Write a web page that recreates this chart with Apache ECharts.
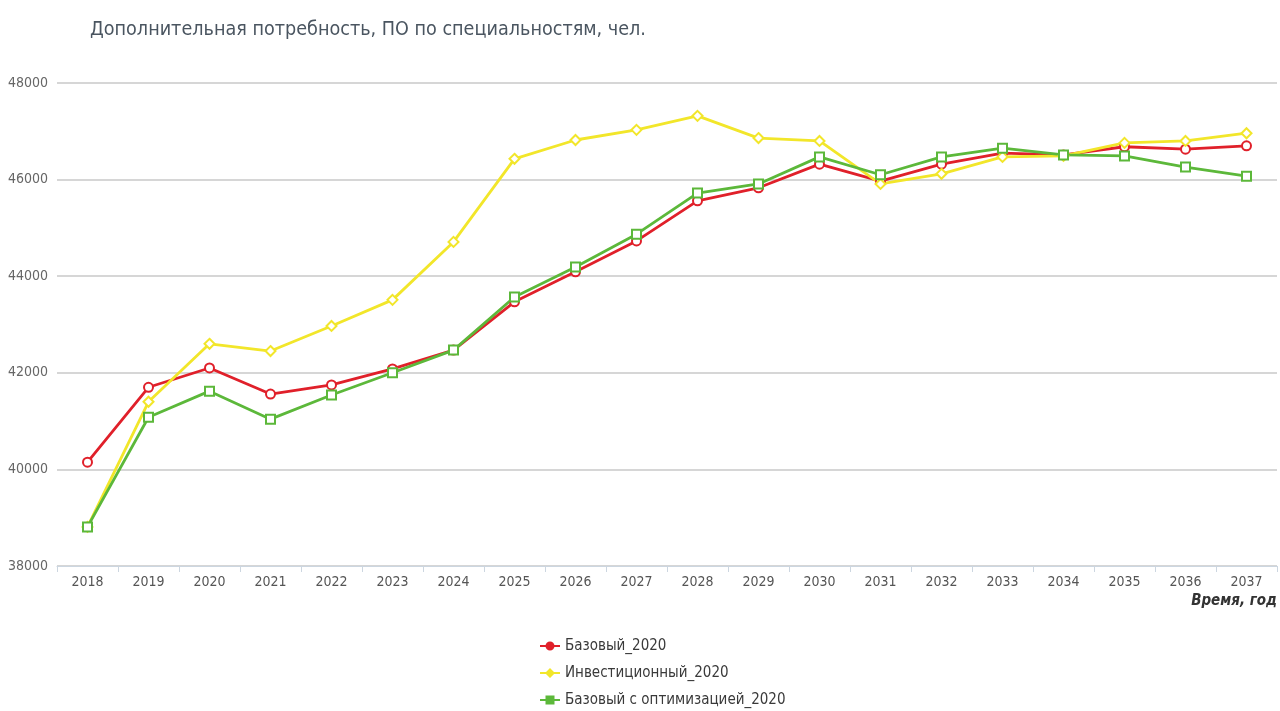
<!DOCTYPE html>
<html>
<head>
<meta charset="utf-8">
<script src="https://cdn.jsdelivr.net/npm/echarts@6/dist/echarts.min.js"></script>
<style>
  html, body { margin: 0; padding: 0; background: #fff; }
  #chart { width: 1280px; height: 711px; }
</style>
</head>
<body>
<div id="chart"></div>
<script>
const years = ['2018', '2019', '2020', '2021', '2022', '2023', '2024', '2025', '2026', '2027',
    '2028', '2029', '2030', '2031', '2032', '2033', '2034', '2035', '2036', '2037'];

const bazovy = [40150, 41700, 42100, 41560, 41750, 42080, 42470, 43470, 44090, 44730,
    45560, 45830, 46320, 45970, 46320, 46550, 46510, 46680, 46630, 46700];

const investicionny = [38810, 41400, 42600, 42450, 42970, 43510, 44710, 46430, 46820, 47030,
    47320, 46860, 46800, 45910, 46120, 46470, 46490, 46760, 46800, 46960];

const bazovyOpt = [38810, 41080, 41620, 41040, 41540, 42000, 42470, 43570, 44190, 44870,
    45720, 45910, 46470, 46100, 46470, 46650, 46510, 46490, 46260, 46070];

const fontFam = '"DejaVu Sans Condensed", "DejaVu Sans", sans-serif';

// иконки легенды: линия + залитый маркер
const iconCircle = 'path://M0,4h20v2h-20z M14.5,5a4.5,4.5 0 1,1 -9,0a4.5,4.5 0 1,1 9,0z';
const iconDiamond = 'path://M0,4h20v2h-20z M10,0l5,5l-5,5l-5,-5z';
const iconRect = 'path://M0,4h20v2h-20z M5.5,0.5h9v9h-9z';

const chart = echarts.init(document.getElementById('chart'));

chart.setOption({
    animation: false,
    title: {
        text: 'Дополнительная потребность, ПО по специальностям, чел.',
        left: 85,
        top: 15,
        textStyle: { fontFamily: fontFam, fontSize: 19.6, fontWeight: 'normal', color: '#4a5560' }
    },
    legend: {
        orient: 'vertical',
        left: 540,
        top: 637,
        height: 74,
        padding: 0,
        itemGap: 9,
        itemWidth: 20,
        itemHeight: 10,
        textStyle: { fontFamily: fontFam, fontSize: 15, lineHeight: 18, color: '#3a3a3a' },
        data: [
            { name: 'Базовый_2020', icon: iconCircle },
            { name: 'Инвестиционный_2020', icon: iconDiamond },
            { name: 'Базовый с оптимизацией_2020', icon: iconRect }
        ]
    },
    grid: { left: 57, right: 2, top: 83, bottom: 145 },
    xAxis: {
        type: 'category',
        data: years,
        boundaryGap: true,
        name: 'Время, год',
        nameLocation: 'end',
        nameGap: 0,
        nameTextStyle: {
            fontFamily: fontFam, fontSize: 15, fontWeight: 'bold', fontStyle: 'italic', color: '#333',
            align: 'right', verticalAlign: 'top', padding: [28, 0, 0, 0]
        },
        axisLine: { lineStyle: { color: '#ccd6e0', width: 1 } },
        axisTick: { show: true, alignWithLabel: false, length: 6, lineStyle: { color: '#ccd6e0' } },
        axisLabel: { fontFamily: fontFam, fontSize: 14, color: '#555', margin: 9 }
    },
    yAxis: {
        type: 'value',
        min: 38000,
        max: 48000,
        interval: 2000,
        axisLine: { show: false },
        axisTick: { show: false },
        axisLabel: { fontFamily: fontFam, fontSize: 14, color: '#666', margin: 9, formatter: v => String(v) },
        splitLine: { lineStyle: { color: '#c8c8c8', width: 1.5 } }
    },
    series: [
        {
            name: 'Базовый_2020',
            type: 'line',
            data: bazovy,
            symbol: 'emptyCircle',
            symbolSize: 9,
            lineStyle: { color: '#e0202a', width: 2.8 },
            itemStyle: { color: '#e0202a', borderWidth: 2 }
        },
        {
            name: 'Инвестиционный_2020',
            type: 'line',
            data: investicionny,
            symbol: 'emptyDiamond',
            symbolSize: 10,
            lineStyle: { color: '#f2e62a', width: 2.8 },
            itemStyle: { color: '#f2e62a', borderWidth: 2 }
        },
        {
            name: 'Базовый с оптимизацией_2020',
            type: 'line',
            data: bazovyOpt,
            symbol: 'emptyRect',
            symbolSize: 9,
            lineStyle: { color: '#5cb83a', width: 2.8 },
            itemStyle: { color: '#5cb83a', borderWidth: 2 }
        }
    ]
});
</script>
</body>
</html>
